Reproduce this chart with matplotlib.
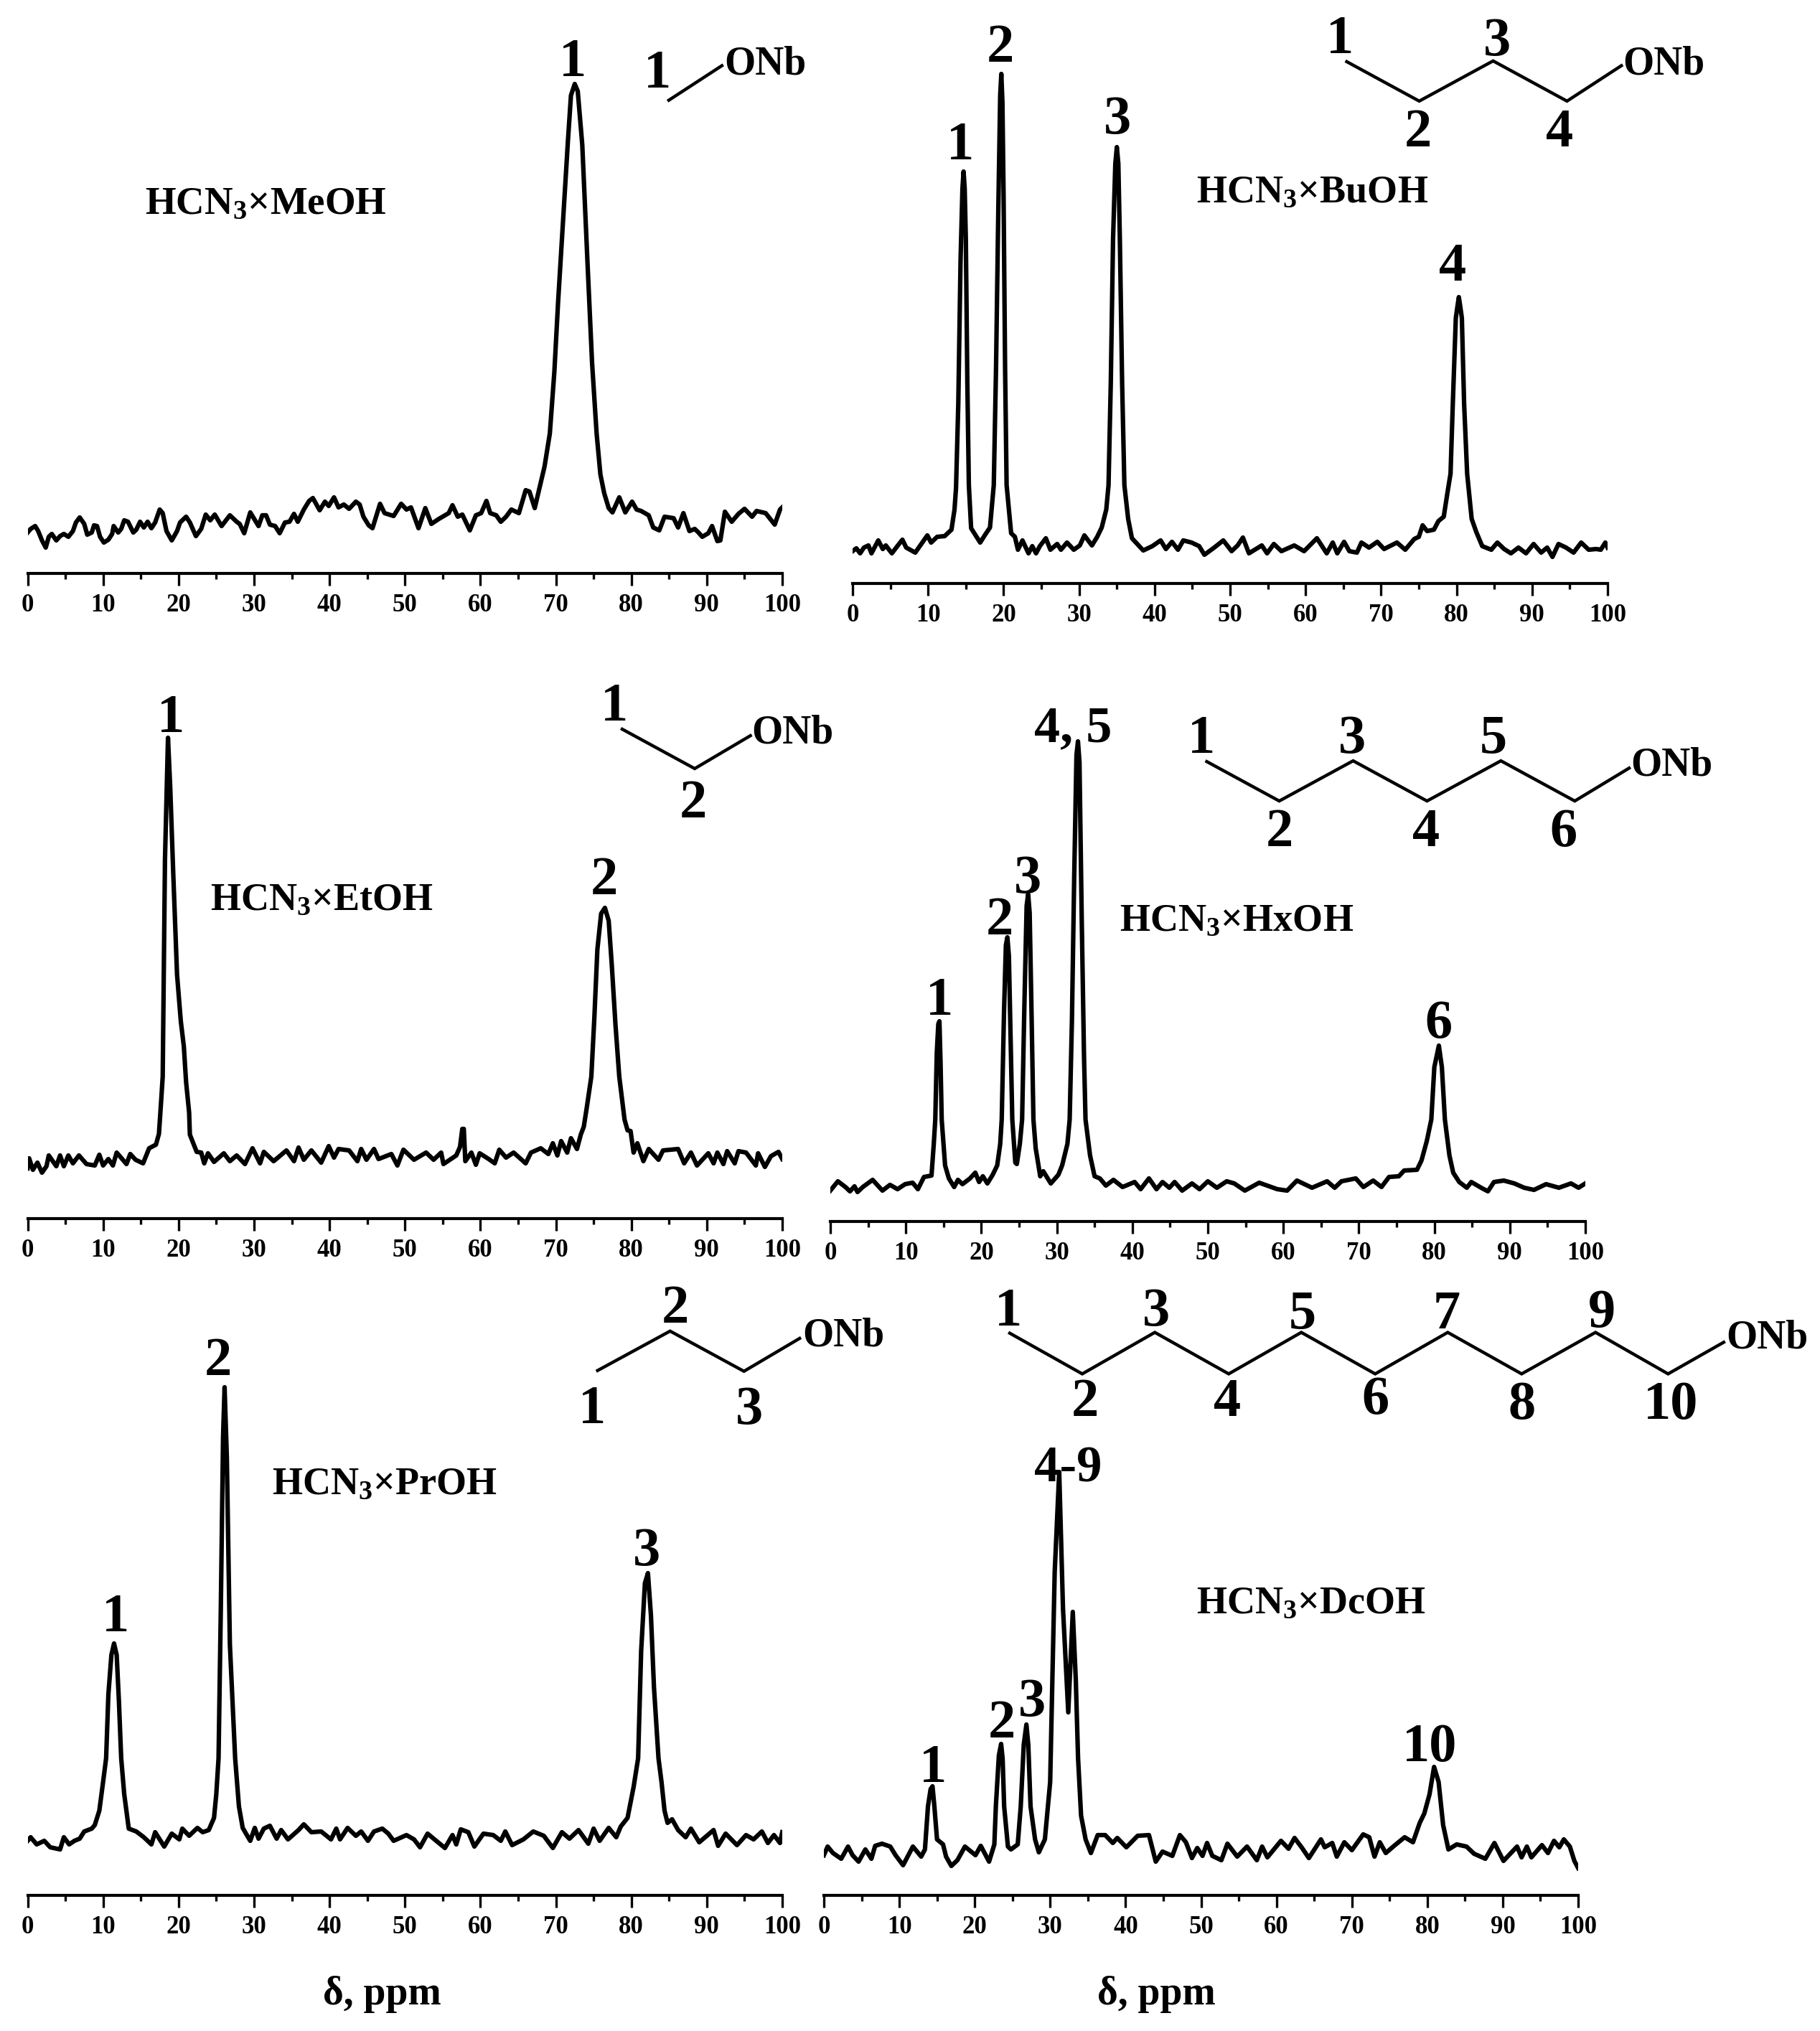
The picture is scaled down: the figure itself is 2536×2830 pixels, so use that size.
import matplotlib
matplotlib.use('Agg')
from matplotlib import pyplot as plt
from matplotlib.lines import Line2D

plt.rcParams['font.family'] = ['Liberation Serif', 'DejaVu Serif']
plt.rcParams['font.weight'] = 'bold'
plt.rcParams['mathtext.fontset'] = 'custom'
plt.rcParams['mathtext.rm'] = 'Liberation Serif:bold'
plt.rcParams['mathtext.default'] = 'rm'

# spectra: shift in ppm, intensity in arbitrary units
meoh_ppm = [0, 0.4, 1.0, 1.4, 1.9, 2.4, 2.8, 3.2, 3.8, 4.3, 4.8, 5.4, 6.0, 6.4, 6.9, 7.5, 7.9, 8.5, 8.8, 9.2, 9.6, 10.1, 10.7, 11.2, 11.4, 12.0, 12.4, 12.8, 13.3, 14.0, 14.4, 14.9, 15.4, 15.9, 16.4, 16.9, 17.5, 17.9, 18.4, 19.1, 19.8, 20.2, 21.0, 21.5, 22.3, 23.0, 23.6, 24.2, 24.8, 25.7, 26.8, 27.7, 28.1, 28.7, 29.5, 30.6, 31.1, 31.6, 32.1, 32.8, 33.4, 34.1, 34.7, 35.3, 35.8, 36.6, 37.3, 37.8, 38.7, 39.4, 39.9, 40.6, 41.2, 41.9, 42.6, 43.5, 44.0, 44.5, 45.2, 45.7, 46.7, 47.3, 48.5, 49.5, 50.2, 50.8, 51.8, 52.7, 53.5, 54.5, 55.8, 56.3, 57.0, 57.6, 58.6, 59.4, 60.1, 60.8, 61.3, 62.1, 62.7, 63.4, 64.1, 65.1, 66.0, 66.5, 67.2, 68.5, 69.2, 69.8, 70.3, 70.9, 71.6, 72.0, 72.5, 72.9, 73.5, 74.2, 74.8, 75.4, 75.9, 76.4, 77.0, 77.5, 78.4, 79.2, 80.1, 80.7, 81.3, 82.3, 82.9, 83.7, 84.4, 85.6, 86.2, 86.9, 87.7, 88.4, 88.9, 89.4, 90.2, 90.7, 91.4, 91.8, 92.4, 93.3, 94.2, 95.0, 96.0, 96.6, 97.8, 99.0, 99.7, 100]
meoh_int = [57, 62, 66, 59, 46, 36, 51, 55, 46, 52, 55, 51, 59, 71, 78, 69, 54, 57, 67, 66, 51, 43, 47, 55, 66, 57, 62, 74, 72, 57, 61, 72, 64, 72, 63, 71, 89, 84, 59, 46, 59, 71, 79, 71, 52, 62, 82, 74, 82, 66, 81, 72, 69, 56, 85, 66, 81, 81, 68, 66, 56, 71, 72, 83, 72, 89, 101, 105, 88, 100, 94, 106, 92, 96, 90, 100, 96, 79, 67, 63, 97, 84, 80, 97, 89, 92, 63, 91, 69, 76, 84, 95, 79, 82, 60, 81, 84, 101, 84, 81, 72, 79, 89, 84, 116, 114, 91, 149, 195, 281, 379, 482, 603, 666, 682, 672, 597, 431, 293, 195, 138, 112, 91, 85, 106, 85, 100, 89, 87, 81, 64, 60, 79, 77, 64, 84, 59, 62, 57, 51, 56, 66, 45, 46, 86, 72, 83, 90, 79, 87, 84, 68, 89, 92]

buoh_ppm = [0, 0.5, 1.0, 1.5, 2.1, 2.5, 3.4, 4.0, 4.4, 5.2, 6.0, 6.6, 7.1, 8.3, 9.1, 9.9, 10.4, 11.2, 12.2, 13.1, 13.5, 13.7, 14.0, 14.3, 14.55, 14.7, 14.85, 15.0, 15.2, 15.4, 15.7, 16.9, 17.5, 18.2, 18.7, 19.0, 19.3, 19.55, 19.7, 19.85, 20.0, 20.2, 20.4, 21.0, 21.5, 21.9, 22.5, 23.3, 23.8, 24.3, 24.8, 25.6, 26.2, 27.1, 27.6, 28.4, 29.3, 30.1, 30.7, 31.7, 32.4, 33.0, 33.6, 33.9, 34.2, 34.5, 34.8, 35.0, 35.2, 35.4, 35.7, 36.0, 36.5, 37.0, 37.7, 38.5, 39.7, 40.8, 41.5, 42.3, 43.1, 43.8, 44.9, 45.9, 46.6, 47.9, 49.1, 50.2, 51.0, 51.7, 52.5, 54.2, 54.9, 55.8, 56.8, 58.5, 59.8, 61.5, 62.8, 63.6, 64.2, 65.1, 65.8, 66.8, 67.4, 68.4, 69.5, 70.4, 72.1, 73.2, 74.4, 75.0, 75.5, 76.1, 77.0, 77.6, 78.3, 78.8, 79.2, 79.5, 79.9, 80.1, 80.3, 80.5, 80.7, 81.0, 81.4, 82.0, 82.6, 83.4, 84.6, 85.4, 86.3, 87.2, 88.2, 89.2, 90.2, 91.2, 92.0, 92.7, 93.5, 94.5, 95.5, 96.5, 97.5, 98.5, 99.1, 99.7, 100]
buoh_int = [45, 49, 42, 50, 53, 42, 60, 48, 53, 42, 53, 61, 50, 43, 55, 67, 57, 65, 66, 75, 103, 133, 250, 450, 550, 574, 550, 480, 280, 137, 77, 57, 67, 78, 137, 300, 520, 680, 710, 670, 540, 300, 137, 70, 65, 47, 60, 42, 52, 42, 52, 63, 47, 55, 47, 57, 47, 53, 67, 53, 65, 78, 103, 137, 280, 480, 585, 608, 585, 480, 280, 137, 90, 63, 55, 46, 52, 60, 48, 58, 47, 60, 57, 52, 40, 50, 60, 45, 53, 64, 42, 53, 42, 55, 45, 53, 45, 63, 42, 57, 42, 58, 45, 43, 57, 50, 58, 48, 57, 47, 62, 65, 81, 73, 75, 87, 93, 127, 153, 250, 370, 385, 399, 385, 370, 250, 153, 90, 72, 52, 47, 57, 48, 42, 50, 42, 55, 43, 50, 37, 55, 50, 43, 57, 47, 48, 47, 57, 50]

etoh_ppm = [0, 0.2, 0.7, 1.3, 1.9, 2.5, 2.8, 3.8, 4.3, 4.8, 5.4, 6.0, 6.8, 7.8, 8.9, 9.5, 10, 10.7, 11.3, 11.8, 13.1, 13.6, 14.3, 15.3, 16.1, 17.0, 17.4, 17.7, 17.9, 18.0, 18.2, 18.6, 18.9, 19.3, 19.8, 20.3, 20.7, 21.0, 21.4, 21.5, 22.4, 23.0, 23.4, 23.9, 24.7, 26.0, 26.8, 27.7, 28.8, 29.8, 30.8, 31.3, 32.6, 34.3, 35.3, 35.9, 36.6, 37.6, 38.9, 39.9, 40.6, 41.2, 42.6, 43.7, 44.2, 44.9, 45.9, 46.5, 48.2, 49, 49.8, 51.2, 52.8, 53.8, 54.8, 55.1, 56.8, 57.3, 57.6, 57.8, 58.0, 58.8, 59.4, 59.9, 61.1, 61.9, 62.5, 63.4, 64.4, 66.0, 66.7, 68.0, 69.0, 69.6, 70.2, 70.7, 71.5, 72, 72.8, 73.3, 73.7, 74.1, 74.7, 75.1, 75.5, 76.0, 76.5, 77.0, 77.4, 77.9, 78.4, 79.1, 79.5, 79.9, 80.3, 80.8, 81.6, 82.3, 83.6, 84.2, 86.2, 87, 87.9, 88.7, 90.2, 90.9, 91.4, 92.2, 92.7, 93.7, 94.2, 95.2, 96.5, 96.8, 97.7, 98.5, 99.5, 100]
etoh_int = [70, 84, 68, 78, 64, 73, 88, 73, 88, 73, 88, 77, 88, 76, 74, 89, 74, 83, 74, 92, 76, 90, 82, 77, 98, 103, 118, 165, 198, 300, 500, 670, 600, 480, 340, 275, 240, 190, 148, 117, 93, 92, 77, 91, 79, 91, 80, 88, 76, 98, 77, 93, 80, 95, 80, 99, 82, 95, 78, 101, 85, 97, 95, 80, 97, 82, 97, 83, 90, 74, 96, 82, 92, 82, 92, 76, 88, 100, 125, 125, 80, 92, 75, 91, 83, 77, 96, 85, 92, 77, 92, 98, 90, 105, 88, 108, 92, 112, 97, 117, 128, 155, 198, 280, 375, 425, 433, 415, 355, 270, 198, 138, 123, 122, 92, 105, 80, 97, 82, 95, 97, 77, 92, 74, 91, 77, 92, 76, 94, 77, 94, 92, 74, 91, 72, 87, 93, 83]

hxoh_ppm = [0, 1, 2, 2.6, 3.2, 3.6, 4.3, 5.6, 6.9, 7.9, 8.9, 9.9, 10.9, 11.6, 12.4, 13.4, 13.7, 13.9, 14.1, 14.3, 14.45, 14.6, 14.75, 15.2, 15.7, 16.4, 16.9, 17.5, 18.5, 19.2, 19.7, 20.2, 20.8, 21.5, 22.1, 22.5, 22.7, 23.0, 23.25, 23.45, 23.65, 23.85, 24.1, 24.5, 24.7, 25.1, 25.4, 25.7, 26.0, 26.2, 26.4, 26.65, 26.9, 27.2, 27.8, 28.2, 29.2, 30.2, 30.7, 31.4, 31.7, 32.0, 32.3, 32.6, 32.8, 33.0, 33.3, 33.6, 33.8, 34.4, 35.0, 35.7, 36.5, 37.5, 38.7, 40.3, 41.1, 42.2, 43.2, 44, 44.9, 45.6, 46.6, 47.9, 48.9, 50, 51.2, 52.5, 53.5, 54.9, 56.8, 59.2, 60.5, 61.8, 63.8, 65.8, 66.8, 67.7, 69.6, 70.6, 71.9, 73, 74, 75.3, 76, 77.7, 78.3, 79, 79.6, 80.0, 80.6, 81.0, 81.4, 82, 82.5, 83.3, 84.3, 84.9, 86.2, 87.1, 87.9, 89.2, 90.6, 91.9, 93.2, 94.8, 96.5, 98.1, 99.1, 100]
hxoh_int = [43, 56, 48, 42, 49, 41, 48, 58, 43, 51, 45, 52, 54, 45, 62, 64, 108, 142, 235, 275, 279, 220, 142, 78, 60, 48, 58, 52, 60, 68, 55, 63, 53, 65, 78, 108, 142, 290, 385, 396, 370, 270, 142, 82, 80, 108, 142, 300, 440, 456, 430, 290, 142, 102, 63, 70, 53, 65, 78, 108, 142, 280, 480, 650, 669, 640, 420, 230, 142, 92, 63, 60, 50, 58, 48, 55, 45, 60, 45, 55, 47, 55, 43, 53, 45, 56, 47, 56, 53, 43, 54, 45, 43, 57, 47, 56, 47, 56, 60, 48, 57, 48, 62, 63, 71, 72, 85, 112, 142, 215, 245, 215, 142, 92, 68, 55, 47, 55, 47, 42, 55, 57, 53, 47, 44, 52, 47, 53, 47, 53]

proh_ppm = [0, 0.4, 1.2, 2.2, 3, 4.3, 4.8, 5.5, 6.2, 6.9, 7.5, 8.5, 8.9, 9.5, 10, 10.4, 10.7, 11.1, 11.45, 11.8, 12.1, 12.4, 12.8, 13.4, 14.4, 15.4, 16.4, 16.9, 18.1, 19.1, 20.1, 20.5, 21.4, 22.5, 23.2, 24, 24.7, 25, 25.3, 25.6, 25.9, 26.1, 26.4, 26.8, 27.5, 28, 28.5, 29.5, 30.1, 30.6, 31.3, 32.1, 33, 33.6, 34.5, 35.9, 36.6, 37.6, 38.9, 40.2, 40.9, 41.4, 42.4, 43.5, 44.2, 45.1, 45.9, 47, 47.8, 48.5, 50.2, 51.2, 52, 53, 53.8, 55.3, 56.3, 56.8, 57.4, 58.4, 59.2, 60.4, 61.7, 62.7, 63.3, 64.2, 65.7, 67, 68.4, 69.6, 70.8, 71.8, 73, 74.3, 75, 75.8, 77, 78, 78.6, 79.5, 80.3, 80.9, 81.3, 81.8, 82.2, 82.6, 83, 83.6, 84, 84.4, 84.8, 85.4, 86.2, 87.2, 87.9, 89, 90.9, 91.5, 92.5, 94, 95.2, 96.2, 97.3, 98.1, 98.9, 99.7, 100]
proh_int = [76, 81, 71, 76, 67, 64, 81, 71, 76, 79, 89, 93, 98, 118, 158, 191, 280, 335, 351, 335, 270, 191, 141, 93, 89, 81, 71, 88, 68, 86, 78, 93, 83, 94, 88, 91, 108, 141, 191, 400, 640, 708, 610, 350, 191, 124, 94, 76, 94, 79, 93, 97, 79, 91, 78, 91, 99, 88, 89, 78, 93, 78, 94, 83, 89, 76, 89, 93, 86, 76, 84, 78, 67, 86, 79, 66, 84, 71, 92, 88, 68, 86, 84, 76, 89, 70, 78, 89, 83, 66, 88, 79, 91, 72, 93, 76, 94, 81, 96, 108, 151, 191, 340, 435, 449, 390, 290, 191, 158, 118, 101, 106, 91, 81, 93, 74, 91, 69, 86, 70, 84, 78, 89, 73, 84, 73, 88]

dcoh_ppm = [0, 0.5, 1.2, 2.3, 3.2, 3.8, 4.6, 5.5, 6.3, 6.8, 7.7, 8.8, 9.5, 10.5, 11.8, 12.9, 13.4, 13.8, 14.15, 14.4, 14.65, 15, 15.8, 16.2, 16.9, 17.7, 18.7, 20.1, 20.8, 21.9, 22.6, 22.8, 23.2, 23.5, 23.7, 23.9, 24.4, 24.8, 25.7, 26.1, 26.5, 26.85, 27.1, 27.4, 28, 28.5, 29.3, 30, 30.6, 31.2, 31.7, 32.4, 33, 33.4, 33.7, 34.1, 34.7, 35.4, 36.3, 37.3, 38.3, 38.9, 40.1, 41.6, 43.1, 44, 44.9, 46.2, 47.2, 48, 48.8, 49.5, 50.2, 50.8, 51.5, 52.7, 53.5, 54.8, 56.1, 57.4, 58.1, 58.8, 60.6, 61.6, 62.4, 63.4, 64.3, 65.9, 66.4, 67.4, 68, 69, 70, 71.5, 72.3, 73, 73.7, 74.5, 75.6, 77, 78.1, 79, 79.6, 80.3, 80.9, 81.5, 82.1, 82.8, 83.9, 85.2, 86.2, 87.7, 88.9, 90.1, 91.9, 92.5, 93.2, 93.8, 95.2, 96, 96.8, 97.5, 98.1, 98.9, 99.5, 100]
dcoh_int = [56, 68, 59, 51, 68, 56, 47, 64, 51, 69, 72, 68, 56, 42, 68, 54, 64, 124, 148, 152, 124, 78, 71, 54, 41, 49, 68, 56, 69, 47, 71, 124, 195, 211, 190, 124, 68, 64, 71, 124, 210, 238, 210, 124, 78, 60, 78, 158, 450, 590, 400, 255, 395, 300, 191, 111, 78, 59, 84, 84, 73, 80, 67, 83, 84, 47, 61, 55, 84, 74, 52, 66, 55, 73, 55, 49, 72, 54, 68, 49, 68, 53, 76, 65, 80, 66, 52, 78, 67, 73, 54, 74, 63, 85, 81, 54, 74, 59, 69, 81, 74, 101, 114, 141, 179, 158, 98, 64, 71, 68, 58, 51, 73, 48, 68, 53, 68, 53, 70, 59, 76, 67, 78, 68, 48, 38]

ppm_major = [0, 10, 20, 30, 40, 50, 60, 70, 80, 90, 100]
ppm_minor = [5, 15, 25, 35, 45, 55, 65, 75, 85, 95]

W, H = 2536, 2830
S = 1.806  # text and skeleton spots below were read on a 1404 px wide view
fig = plt.figure(figsize=(W / 100, H / 100), dpi=100, facecolor='white')


def label(x, y, s, size=55, ha='center', va='center'):
	fig.text(x * S / W, 1 - (y + 2.5) * S / H, s, fontsize=size, fontweight='bold', ha=ha, va=va)


def skeleton(points):
	xs = [p[0] * S / W for p in points]
	ys = [1 - p[1] * S / H for p in points]
	fig.add_artist(Line2D(xs, ys, color='black', lw=3.2, solid_joinstyle='miter', solid_capstyle='butt'))


# left, right and baseline of every panel in pixels
panels = [
	(38.5, 1090, 799, meoh_ppm, meoh_int),
	(1188, 2240, 813, buoh_ppm, buoh_int),
	(38.5, 1090, 1698, etoh_ppm, etoh_int),
	(1157, 2209, 1702, hxoh_ppm, hxoh_int),
	(38.5, 1090, 2641, proh_ppm, proh_int),
	(1148, 2199, 2641, dcoh_ppm, dcoh_int),
]

ax_h = 740
for left, right, base, ppm, intensity in panels:
	ax = fig.add_axes([left / W, 1 - base / H, (right - left) / W, ax_h / H])
	ax.patch.set_alpha(0)
	ax.plot(ppm, intensity, color='black', lw=4.5, solid_joinstyle='round')
	ax.set_xlim(0, 100)
	ax.set_ylim(0, ax_h)
	for side in ('top', 'left', 'right'):
		ax.spines[side].set_visible(False)
	ax.spines['bottom'].set_linewidth(3)
	ax.set_yticks([])
	ax.set_xticks(ppm_major)
	ax.set_xticks(ppm_minor, minor=True)
	ax.tick_params(axis='x', which='major', length=12, width=2.4, pad=8, labelsize=25)
	ax.tick_params(axis='x', which='minor', length=6, width=2.4)
	for t in ax.get_xticklabels():
		t.set_fontweight('bold')

# compound names
label(112, 155, 'HCN$_3$×MeOH', 39.5, ha='left')
label(923, 146, 'HCN$_3$×BuOH', 39, ha='left')
label(162, 692, 'HCN$_3$×EtOH', 39, ha='left')
label(864, 708, 'HCN$_3$×HxOH', 39, ha='left')
label(210, 1143, 'HCN$_3$×PrOH', 39, ha='left')
label(923, 1235, 'HCN$_3$×DcOH', 39, ha='left')
label(295, 1536, 'δ, ppm', 40)
label(892, 1536, 'δ, ppm', 40)

# peak numbers
for x, y, s in [(442, 46, '1'), (741, 110, '1'), (772, 35, '2'), (862, 90, '3'), (1121, 204, '4'),
		(132, 552, '1'), (466, 677, '2'), (725, 770, '1'), (771, 708, '2'), (793, 676, '3'),
		(1110, 788, '6'), (89, 1246, '1'), (168, 1048, '2'), (499, 1195, '3'),
		(720, 1362, '1'), (773, 1328, '2'), (796, 1311, '3'), (1103, 1346, '10')]:
	label(x, y, s)
label(828, 560, '4, 5', 52)
label(824, 1131, '4-9', 51)

# chain formulas
skeleton([(515, 78), (558, 50)])
skeleton([(1038, 47), (1095, 78), (1152, 47), (1209, 78), (1252, 50)])
skeleton([(479, 562), (536, 593), (580, 567)])
skeleton([(930, 587), (987, 618), (1044, 587), (1101, 618), (1158, 587), (1215, 618), (1258, 592)])
skeleton([(460, 1058), (517, 1027), (574, 1058), (618, 1032)])
skeleton([(778, 1028), (835, 1060), (891, 1028), (948, 1060), (1004, 1028), (1061, 1060), (1117, 1028), (1174, 1060), (1231, 1028), (1287, 1060), (1331, 1035)])

for x, y, s in [(507, 55, '1'), (1034, 28, '1'), (1094, 100, '2'), (1155, 30, '3'), (1203, 100, '4'),
		(474, 543, '1'), (535, 618, '2'), (927, 568, '1'), (987, 640, '2'), (1043, 568, '3'),
		(1100, 640, '4'), (1152, 568, '5'), (1206, 640, '6'), (457, 1085, '1'), (521, 1008, '2'),
		(578, 1086, '3'), (778, 1010, '1'), (837, 1080, '2'), (892, 1010, '3'), (947, 1080, '4'),
		(1005, 1012, '5'), (1061, 1078, '6'), (1116, 1012, '7'), (1174, 1082, '8'), (1236, 1011, '9'),
		(1289, 1082, '10')]:
	label(x, y, s)

for x, y in [(559, 47), (1252, 47), (580, 563), (1258, 588), (619, 1028), (1332, 1030)]:
	label(x, y, 'ONb', 40, ha='left')

fig.savefig('out.png', dpi=100, facecolor='white')
